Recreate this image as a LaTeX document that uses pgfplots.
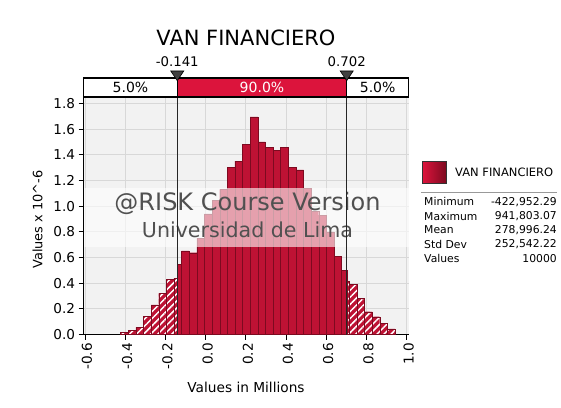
\documentclass[border=0pt]{standalone}
\usepackage{pgfplots}
\pgfplotsset{compat=1.18}
\usepackage{fontspec}
\setmainfont{DejaVu Sans}
\usetikzlibrary{patterns.meta}
\definecolor{barred}{RGB}{190,18,52}
\definecolor{bardark}{RGB}{125,10,32}
\definecolor{crim}{RGB}{220,20,60}
\definecolor{plotbg}{RGB}{242,242,242}
\definecolor{gridc}{RGB}{216,216,216}
\definecolor{wm}{RGB}{80,80,80}
\newcommand{\fs}[1]{\fontsize{#1}{#1}\selectfont}

\begin{document}
\begin{tikzpicture}
\path (0,0) rectangle (561pt,407pt);
\begin{axis}[
  at={(83.6pt,72.5pt)}, anchor=south west,
  scale only axis, width=325pt, height=237.5pt,
  xmin=-0.607, xmax=1.01, ymin=0, ymax=1.85,
  clip=false,
  axis background/.style={fill=plotbg},
  grid=major, major grid style={gridc, line width=0.8pt},
  axis lines*=left, axis line style={-, black, line width=1.2pt},
  tick align=outside, major tick length=5pt, tick style={black, line width=0.8pt},
  xtick={-0.6,-0.4,-0.2,0,0.2,0.4,0.6,0.8,1.0},
  xticklabels={-0.6,-0.4,-0.2,0.0,0.2,0.4,0.6,0.8,1.0},
  ytick={0,0.2,0.4,0.6,0.8,1.0,1.2,1.4,1.6,1.8},
  yticklabels={0.0,0.2,0.4,0.6,0.8,1.0,1.2,1.4,1.6,1.8},
  xticklabel style={rotate=90, anchor=east, font=\fs{13.6}, yshift=-2pt},
  yticklabel style={font=\fs{13.6}},
]
% left tail (hatched)
\addplot[ybar interval, fill=barred, draw=bardark, line width=0.3pt,
  postaction={pattern={Lines[angle=45,distance=5pt,line width=1.5pt]}, pattern color=white}]
  coordinates {(-0.4230,0.017) (-0.3851,0.035) (-0.3472,0.056) (-0.3092,0.14)
  (-0.2713,0.23) (-0.2334,0.32) (-0.1955,0.43) (-0.1576,0.44) (-0.141,0)};
% central 90%
\addplot[ybar interval, fill=barred, draw=bardark, line width=0.3pt]
  coordinates {(-0.141,0.545) (-0.1196,0.652) (-0.0817,0.637) (-0.0438,0.75)
  (-0.0059,0.94) (0.0320,1.047) (0.0700,1.13) (0.1079,1.30) (0.1458,1.35)
  (0.1837,1.48) (0.2216,1.695) (0.2596,1.50) (0.2975,1.46) (0.3354,1.435)
  (0.3733,1.46) (0.4112,1.30) (0.4492,1.283) (0.4871,1.14) (0.5250,0.96)
  (0.5629,0.93) (0.6008,0.80) (0.6388,0.61) (0.6767,0.50) (0.702,0)};
% right tail (hatched)
\addplot[ybar interval, fill=barred, draw=bardark, line width=0.3pt,
  postaction={pattern={Lines[angle=45,distance=5pt,line width=1.5pt]}, pattern color=white}]
  coordinates {(0.702,0.416) (0.7146,0.39) (0.7525,0.28) (0.7904,0.178)
  (0.8284,0.139) (0.8663,0.087) (0.9042,0.043) (0.9421,0)};
% watermark band
\fill[white, opacity=0.6] (axis cs:-0.607,0.68) rectangle (axis cs:1.01,1.14);
\node[text=wm] at (axis cs:0.2085,1.024) {\fs{24}@RISK Course Version};
\node[text=wm] at (axis cs:0.2085,0.814) {\fs{20.6}Universidad de Lima};
% delimiter lines
\draw[line width=1.3pt, black!85] (axis cs:-0.141,0) -- (axis cs:-0.141,1.85);
\draw[line width=1.3pt, black!85] (axis cs:0.702,0) -- (axis cs:0.702,1.85);
% delimiter bar
\fill[white] (axis cs:-0.607,1.85) rectangle ([yshift=19pt]axis cs:1.01,1.85);
\fill[crim] (axis cs:-0.141,1.85) rectangle ([yshift=19pt]axis cs:0.702,1.85);
\draw[line width=1.2pt] (axis cs:-0.607,1.85) rectangle ([yshift=19pt]axis cs:1.01,1.85);
\draw[line width=1pt] (axis cs:-0.141,1.85) -- ([yshift=19pt]axis cs:-0.141,1.85);
\draw[line width=1pt] (axis cs:0.702,1.85) -- ([yshift=19pt]axis cs:0.702,1.85);
\node at ([yshift=9.5pt]axis cs:-0.374,1.85) {\fs{14}5.0\%};
\node[text=white] at ([yshift=9.5pt]axis cs:0.2805,1.85) {\fs{14}90.0\%};
\node at ([yshift=9.5pt]axis cs:0.856,1.85) {\fs{14}5.0\%};
% triangles
\filldraw[fill=black!75, draw=black, line width=0.6pt]
  ([yshift=16.3pt]axis cs:-0.141,1.85) -- ([xshift=-6.5pt,yshift=26pt]axis cs:-0.141,1.85)
  -- ([xshift=6.5pt,yshift=26pt]axis cs:-0.141,1.85) -- cycle;
\filldraw[fill=black!75, draw=black, line width=0.6pt]
  ([yshift=16.3pt]axis cs:0.702,1.85) -- ([xshift=-6.5pt,yshift=26pt]axis cs:0.702,1.85)
  -- ([xshift=6.5pt,yshift=26pt]axis cs:0.702,1.85) -- cycle;
\node at ([yshift=35pt]axis cs:-0.141,1.85) {\fs{13.3}-0.141};
\node at ([yshift=35pt]axis cs:0.702,1.85) {\fs{13.3}0.702};
\end{axis}
% title and axis labels
\node at (246pt,369.5pt) {\fs{21}VAN FINANCIERO};
\node[rotate=90] at (37.5pt,187.3pt) {\fs{12.9}Values x 10\textasciicircum-6};
\node at (246pt,19.5pt) {\fs{13.7}Values in Millions};
% legend
\shade[left color=crim, right color=bardark] (422.7pt,223.7pt) rectangle (446pt,245.3pt);
\draw[black!80, line width=0.6pt] (422.7pt,223.7pt) rectangle (446pt,245.3pt);
\node[anchor=west, inner sep=0pt] at (455pt,235pt) {\fs{11.5}VAN FINANCIERO};
\draw[black!40, line width=0.8pt] (421pt,214.3pt) -- (557pt,214.3pt);
\node[anchor=west, inner sep=0pt] at (424pt,205.3pt) {\fs{10.8}Minimum};
\node[anchor=west, inner sep=0pt] at (424pt,191pt) {\fs{10.8}Maximum};
\node[anchor=west, inner sep=0pt] at (424pt,177pt) {\fs{10.8}Mean};
\node[anchor=west, inner sep=0pt] at (424pt,162.7pt) {\fs{10.8}Std Dev};
\node[anchor=west, inner sep=0pt] at (424pt,148.5pt) {\fs{10.8}Values};
\node[anchor=east, inner sep=0pt] at (557pt,205.3pt) {\fs{10.8}-422,952.29};
\node[anchor=east, inner sep=0pt] at (557pt,191pt) {\fs{10.8}941,803.07};
\node[anchor=east, inner sep=0pt] at (557pt,177pt) {\fs{10.8}278,996.24};
\node[anchor=east, inner sep=0pt] at (557pt,162.7pt) {\fs{10.8}252,542.22};
\node[anchor=east, inner sep=0pt] at (557pt,148.5pt) {\fs{10.8}10000};
\end{tikzpicture}
\end{document}
